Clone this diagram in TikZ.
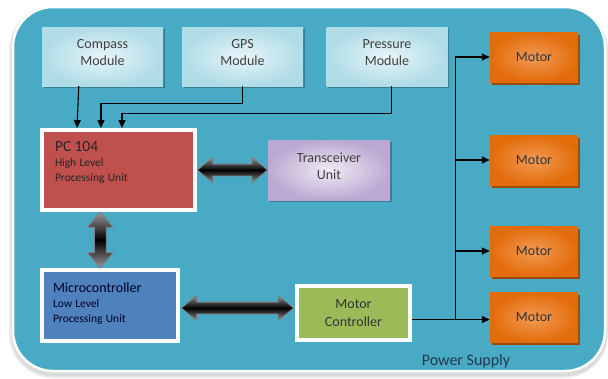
\documentclass[tikz,border=0pt]{standalone}
\usepackage{fontspec}
\setmainfont{Carlito}
\usetikzlibrary{shapes.arrows,shadows,calc,arrows.meta}
\definecolor{bgteal}{HTML}{49AAC5}
\definecolor{modtext}{HTML}{404040}
\definecolor{pcred}{HTML}{C0504D}
\definecolor{mcublue}{HTML}{4F81BD}
\definecolor{mcgreen}{HTML}{9BBB59}
\definecolor{motorout}{HTML}{E36C0A}
\definecolor{motorin}{HTML}{F29A55}
\definecolor{motorshadow}{HTML}{9C4A08}
\definecolor{modout}{HTML}{B0DCE7}
\definecolor{modin}{HTML}{E8F5F8}
\definecolor{trout}{HTML}{BCA9D2}
\definecolor{trin}{HTML}{F0ECF4}
\definecolor{pstext}{HTML}{22384F}
\begin{document}
\begin{tikzpicture}[x=1pt,y=-1pt,
  module/.style={rectangle, minimum width=121pt, minimum height=59pt, inner sep=0pt,
    align=center, font=\fontsize{14}{17}\selectfont, text=modtext, text depth=8pt,
    inner color=modin, outer color=modout,
    drop shadow={shadow xshift=1.5pt, shadow yshift=-1.5pt, fill=black, opacity=0.25}},
  motor/.style={rectangle, minimum width=88pt, minimum height=50pt, inner sep=0pt,
    font=\fontsize{14}{17}\selectfont, text=black!80,
    inner color=motorin, outer color=motorout,
    drop shadow={shadow xshift=2pt, shadow yshift=-2.5pt, fill=motorshadow, opacity=1}},
  whitebox/.style={rectangle, draw=white, line width=4pt, inner sep=0pt,
    drop shadow={shadow xshift=2pt, shadow yshift=-2pt, fill=black, opacity=0.3}},
  trans/.style={rectangle, minimum width=122pt, minimum height=60pt, inner sep=0pt,
    align=center, font=\fontsize{14}{17}\selectfont, text=modtext, text depth=7pt,
    inner color=trin, outer color=trout,
    drop shadow={shadow xshift=1.5pt, shadow yshift=-1.5pt, fill=black, opacity=0.25}},
  fat/.style={double arrow, draw=black!50, line width=0.8pt, inner xsep=0pt, inner ysep=5.5pt,
    double arrow head extend=7pt, double arrow tip angle=80,
    top color=black!40, bottom color=black!40, middle color=black},
  arr/.style={-{Triangle[length=8pt,width=7pt]}, line width=1.1pt, black},
  pstyle/.style={font=\fontsize{16}{18}\selectfont, text=pstext}
]
\useasboundingbox (0,0) rectangle (608,378);
\fill[white] (0,0) rectangle (608,378);
% soft shadow of the frame
\fill[black!8, rounded corners=44pt] (9,6) rectangle (608,378);
\fill[black!14, rounded corners=42pt] (11,7) rectangle (607,376);
\fill[bgteal, draw=white, line width=2.5pt, rounded corners=40pt] (13,7) rectangle (605,371);

% modules
\node[module] (compass) at (102.5,56.5) {Compass\\Module};
\node[module] (gps) at (242.5,56.5) {GPS\\Module};
\node[module] (pressure) at (387,56.5) {Pressure\\Module};

% motors
\node[motor] (m1) at (534,57) {Motor};
\node[motor] (m2) at (534,160) {Motor};
\node[motor] (m3) at (534,251) {Motor};
\node[motor] (m4) at (534,317.5) {Motor};

% processing units
\node[whitebox, fill=pcred, minimum width=153pt, minimum height=80pt,
      text width=127pt, align=left, text=black!85] (pc) at (118.5,170)
  {\fontsize{15.5}{15.5}\selectfont PC 104\par
   \fontsize{11.5}{15}\selectfont High Level\\ Processing Unit\par\vspace{16pt}};
\node[trans] (tr) at (329,170) {Transceiver\\Unit};
\node[whitebox, fill=mcublue, minimum width=136pt, minimum height=71pt,
      text width=114pt, align=left, text=black!85!blue] (mcu) at (110,305.5)
  {\fontsize{14}{14}\selectfont Microcontroller\par
   \fontsize{11.5}{15}\selectfont Low Level\\ Processing Unit\par\vspace{4pt}};
\node[whitebox, fill=mcgreen, minimum width=113pt, minimum height=54pt,
      align=center, font=\fontsize{14}{18}\selectfont, text=black!80] (mc) at (353.5,313)
  {Motor\\Controller};

% fat bidirectional arrows
\node[fat, minimum height=70pt] (a1) at ($(pc.east)!0.5!(tr.west)$) {};
\node[fat, minimum height=56pt, rotate=90] (a2) at ($(pc.south)!0.5!(mcu.north) + (-14,0)$) {};
\node[fat, minimum height=112pt] (a3) at ($(mcu.east |- 0,308)!0.5!(mc.west |- 0,308)$) {};

% sensor connectors
\draw[arr] ([xshift=37pt]compass.south west) -- ([xshift=37pt]pc.north west);
\draw[arr] (gps.south) -- ++(0,17) -| ([xshift=61pt]pc.north west);
\draw[arr] ([xshift=65pt]pressure.south west) -- ++(0,27) -| ([xshift=82pt]pc.north west);

% power bus
\coordinate (bus) at ($(m4.west)+(-34,2)$);
\draw[arr] (mc.east |- bus) -- (m4.west |- bus);
\draw[arr] (bus) |- (m1.west);
\draw[arr] (bus |- m2.west) -- (m2.west);
\draw[arr] (bus |- m3.west) -- (m3.west);

\node[pstyle] (ps) at (466,361) {Power Supply};
\end{tikzpicture}
\end{document}
